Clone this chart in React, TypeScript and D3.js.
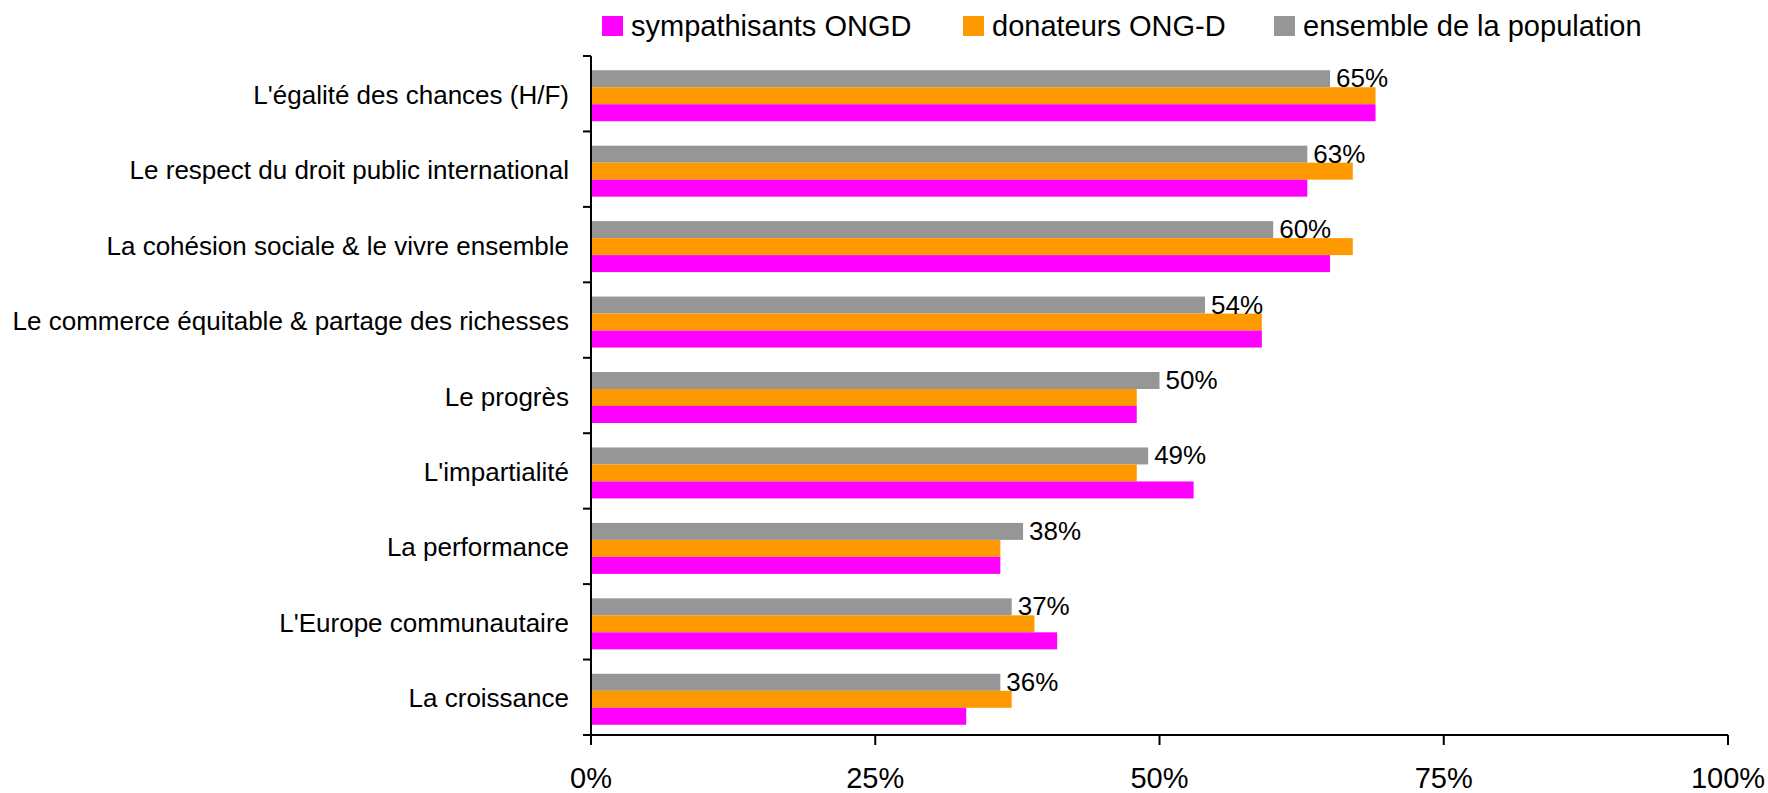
import React from "react";
import * as d3 from "d3";

const categories = [
  "L'égalité des chances (H/F)",
  "Le respect du droit public international",
  "La cohésion sociale & le vivre ensemble",
  "Le commerce équitable & partage des richesses",
  "Le progrès",
  "L'impartialité",
  "La performance",
  "L'Europe communautaire",
  "La croissance",
];
const sympathisants = [69, 63, 65, 59, 48, 53, 36, 41, 33];
const donateurs = [69, 67, 67, 59, 48, 48, 36, 39, 37];
const ensemble = [65, 63, 60, 54, 50, 49, 38, 37, 36];
const seriesNames = ["sympathisants ONGD", "donateurs ONG-D", "ensemble de la population"];
const seriesColors = ["#FF00FF", "#FF9900", "#969696"];
const xTicks = [0, 25, 50, 75, 100];

const W = 1768, H = 793;
const X0 = 591, X1 = 1728, Y0 = 56, Y1 = 735;
const FONT = "'Liberation Sans', Arial, sans-serif";

export default function App() {
  const x = d3.scaleLinear().domain([0, 100]).range([X0, X1]);
  const y = d3.scaleBand<string>().domain(categories).range([Y0, Y1]).padding(0);
  const inner = d3
    .scaleBand<number>()
    .domain([2, 1, 0])
    .range([2, y.bandwidth() + 2])
    .paddingInner(0)
    .paddingOuter(0.72);
  const values = [sympathisants, donateurs, ensemble];
  const legendX = [602, 963, 1274];
  const boundaries = d3.range(categories.length + 1).map((i) => Y0 + i * y.step());

  return (
    <svg width={W} height={H} style={{ position: "absolute", left: 0, top: 0, background: "#fff" }} fontFamily={FONT}>
      <rect x={0} y={0} width={W} height={H} fill="#fff" />
      {seriesNames.map((n, i) => (
        <g key={n}>
          <rect x={legendX[i]} y={16} width={21} height={20} fill={seriesColors[i]} />
          <text x={legendX[i] + 29} y={36} fontSize={29} fill="#000">{n}</text>
        </g>
      ))}
      {categories.map((c, ci) => (
        <g key={c}>
          {[2, 1, 0].map((si) => (
            <rect
              key={si}
              x={x(0)}
              y={(y(c) as number) + (inner(si) as number)}
              width={x(values[si][ci]) - x(0)}
              height={inner.bandwidth()}
              fill={seriesColors[si]}
            />
          ))}
          <text
            x={x(ensemble[ci]) + 6}
            y={(y(c) as number) + (inner(2) as number) + inner.bandwidth()}
            fontSize={26}
            fill="#000"
          >
            {ensemble[ci]}%
          </text>
          <text
            x={569}
            y={(y(c) as number) + y.bandwidth() / 2 + 1}
            dy="0.35em"
            textAnchor="end"
            fontSize={26}
            fill="#000"
          >
            {c}
          </text>
        </g>
      ))}
      <line x1={X0} x2={X0} y1={Y0} y2={Y1} stroke="#000" strokeWidth={2} />
      {boundaries.map((b, i) => (
        <line key={i} x1={X0 - 8} x2={X0} y1={b} y2={b} stroke="#000" strokeWidth={2} />
      ))}
      <line x1={X0 - 8} x2={X1} y1={Y1} y2={Y1} stroke="#000" strokeWidth={2} />
      {xTicks.map((t) => (
        <g key={t}>
          <line x1={x(t)} x2={x(t)} y1={Y1} y2={Y1 + 10} stroke="#000" strokeWidth={2} />
          <text x={x(t)} y={Y1 + 53} textAnchor="middle" fontSize={29} fill="#000">{t}%</text>
        </g>
      ))}
    </svg>
  );
}
